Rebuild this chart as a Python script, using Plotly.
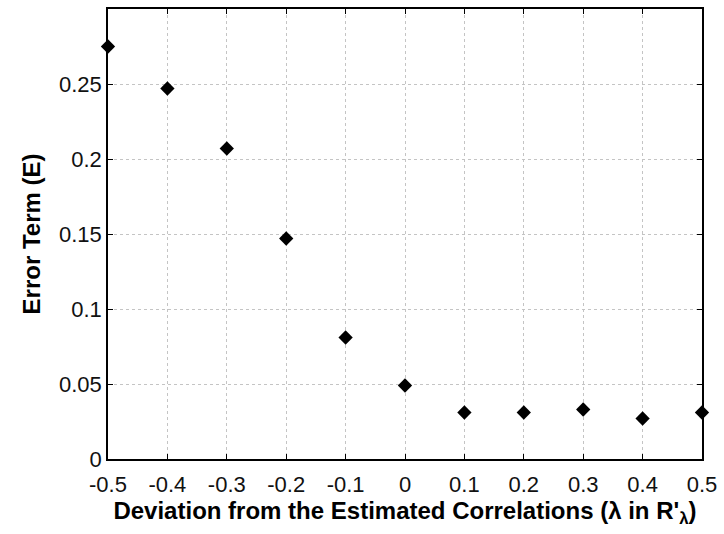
import plotly.graph_objects as go

# Deviation from the estimated correlations (lambda) and resulting error term
deviation = [-0.5, -0.4, -0.3, -0.2, -0.1, 0.0, 0.1, 0.2, 0.3, 0.4, 0.5]
error_term = [0.275, 0.247, 0.207, 0.147, 0.081, 0.049, 0.031, 0.031, 0.033, 0.027, 0.031]

x_ticks = [-0.5, -0.4, -0.3, -0.2, -0.1, 0, 0.1, 0.2, 0.3, 0.4, 0.5]
x_tick_text = ["-0.5", "-0.4", "-0.3", "-0.2", "-0.1", "0", "0.1", "0.2", "0.3", "0.4", "0.5"]
y_ticks = [0, 0.05, 0.1, 0.15, 0.2, 0.25]
y_tick_text = ["0", "0.05", "0.1", "0.15", "0.2", "0.25"]

fig = go.Figure()
fig.add_trace(go.Scatter(
    x=deviation, y=error_term, mode="markers",
    marker=dict(symbol="diamond", size=11, color="black"),
    cliponaxis=False, showlegend=False,
))

font = "Liberation Sans, Arial, sans-serif"
axis_common = dict(
    showline=True, linecolor="black", linewidth=1.5, mirror="ticks",
    ticks="inside", ticklen=5, tickcolor="black", tickwidth=1,
    showgrid=True, gridcolor="#c4c4c4", griddash="dot", gridwidth=1,
    zeroline=False, tickfont=dict(family=font, size=22, color="#111111"),
)

fig.update_xaxes(
    range=[-0.5, 0.5], tickvals=x_ticks, ticktext=x_tick_text,
    ticklabelstandoff=5,
    title=dict(text="<b>Deviation from the Estimated Correlations (λ in R'<sub>λ</sub>)</b>",
               font=dict(family=font, size=24, color="black"), standoff=5),
    **axis_common,
)
fig.update_yaxes(
    range=[0, 0.3], tickvals=y_ticks, ticktext=y_tick_text,
    title=dict(text="<b>Error Term (E)</b>",
               font=dict(family=font, size=24, color="black"), standoff=12),
    **axis_common,
)

fig.update_layout(
    width=724, height=534,
    margin=dict(l=108, r=21, t=7, b=75),
    plot_bgcolor="white", paper_bgcolor="white",
)

fig.write_html("out.html")
